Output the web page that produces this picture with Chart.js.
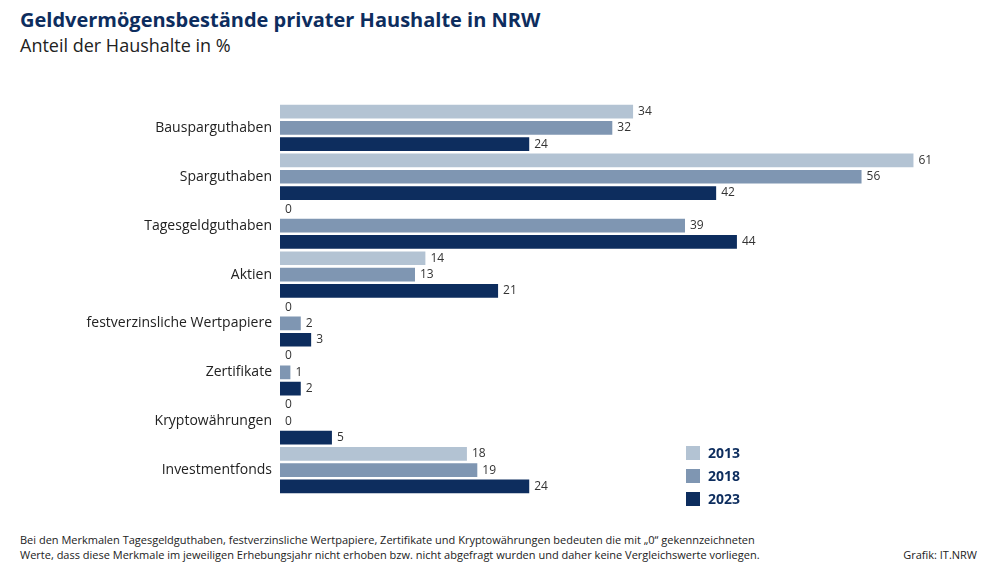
<!DOCTYPE html>
<html><head><meta charset="utf-8">
<script src="https://cdn.jsdelivr.net/npm/chart.js@4"></script>
<style>
body{margin:0;width:999px;height:571px;background:#fff;font-family:"Open Sans",sans-serif;position:relative;overflow:hidden;color:#1a1a1a}
#t{position:absolute;left:20px;top:6px;font-size:20px;font-weight:bold;color:#0d2d5e}
#s{position:absolute;left:20px;top:33px;font-size:18px;color:#222}
#cv{position:absolute;left:0;top:95px}
#f{position:absolute;left:20px;top:532px;font-size:11px;line-height:15px;color:#222}
#g{position:absolute;right:22px;top:547px;font-size:11px;color:#222}
.lg{position:absolute;left:686px;font-size:14px;font-weight:bold;color:#0d2d5e}
.lg span{display:inline-block;width:14px;height:14px;vertical-align:-2px;margin-right:8px}
</style></head><body>
<div id="t">Geldvermögensbestände privater Haushalte in NRW</div>
<div id="s">Anteil der Haushalte in %</div>
<canvas id="cv" width="999" height="408" style="width:999px;height:408px"></canvas>
<div class="lg" style="top:443px"><span style="background:#b3c3d3"></span>2013</div>
<div class="lg" style="top:466px"><span style="background:#7f96b2"></span>2018</div>
<div class="lg" style="top:489px"><span style="background:#0d2d5e"></span>2023</div>
<div id="f">Bei den Merkmalen Tagesgeldguthaben, festverzinsliche Wertpapiere, Zertifikate und Kryptowährungen bedeuten die mit „0“ gekennzeichneten<br>Werte, dass diese Merkmale im jeweiligen Erhebungsjahr nicht erhoben bzw. nicht abgefragt wurden und daher keine Vergleichswerte vorliegen.</div>
<div id="g">Grafik: IT.NRW</div>
<script>
const categories=["Bausparguthaben","Sparguthaben","Tagesgeldguthaben","Aktien","festverzinsliche Wertpapiere","Zertifikate","Kryptowährungen","Investmentfonds"];
const v2013=[34,61,0,14,0,0,0,18];
const v2018=[32,56,39,13,2,1,0,19];
const v2023=[24,42,44,21,3,2,5,24];
const labelsPlugin={id:'lbl',afterDatasetsDraw(ch){const c=ch.ctx;c.save();c.font='12px "Open Sans"';c.fillStyle='#333';c.textBaseline='middle';
ch.data.datasets.forEach((d,i)=>{ch.getDatasetMeta(i).data.forEach((b,j)=>{c.fillText(d.data[j],b.x+5,b.y);});});c.restore();}};
new Chart(document.getElementById('cv'),{type:'bar',
data:{labels:categories,datasets:[
{label:'2013',data:v2013,backgroundColor:'#b3c3d3',categoryPercentage:1,barPercentage:0.84},
{label:'2018',data:v2018,backgroundColor:'#7f96b2',categoryPercentage:1,barPercentage:0.84},
{label:'2023',data:v2023,backgroundColor:'#0d2d5e',categoryPercentage:1,barPercentage:0.84}]},
options:{indexAxis:'y',responsive:false,animation:false,devicePixelRatio:1,
layout:{padding:{right:44,top:0,bottom:0}},
plugins:{legend:{display:false},tooltip:{enabled:false}},
scales:{x:{display:false,min:0,max:65},
y:{grid:{display:false},border:{display:false},afterFit(s){s.width=280;},
ticks:{color:'#222',font:{size:14,family:'"Open Sans"'},padding:0}}}},
plugins:[labelsPlugin]});
</script></body></html>
